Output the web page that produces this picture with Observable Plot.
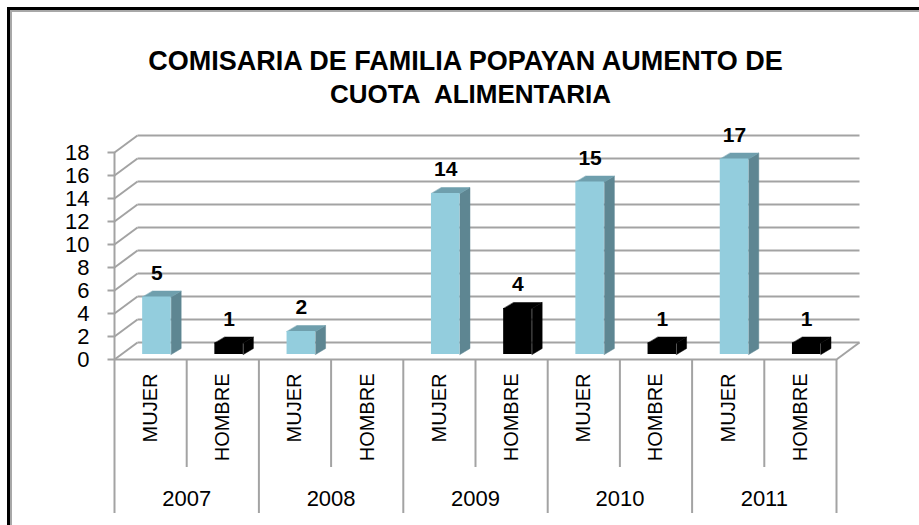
<!DOCTYPE html>
<html><head><meta charset="utf-8">
<script src="https://cdn.jsdelivr.net/npm/d3@7"></script>
<script src="https://cdn.jsdelivr.net/npm/@observablehq/plot@0.6"></script>
<style>
html,body{margin:0;padding:0;background:#fff;}
#wrap{position:relative;width:919px;height:525px;overflow:hidden;background:#fff;}
#chart svg{position:absolute;left:0;top:0;}
#frame1{position:absolute;left:7px;top:7px;width:2000px;height:2000px;border-left:3px solid #000;border-top:3px solid #000;}
#frame2{position:absolute;left:10px;top:10px;width:2000px;height:2000px;border-left:2px solid #a8a8a8;border-top:2px solid #a8a8a8;}
</style></head><body>
<div id="wrap"><div id="chart"></div><div id="frame1"></div><div id="frame2"></div></div>
<script>
// ---- data ----
const titleLines = ["COMISARIA DE FAMILIA POPAYAN AUMENTO DE", "CUOTA\u00a0 ALIMENTARIA"];
const years = ["2007", "2008", "2009", "2010", "2011"];
const sexes = ["MUJER", "HOMBRE"];
const mujer = [5, 2, 14, 15, 17];
const hombre = [1, null, 4, 1, 1];
const yTicks = [0, 2, 4, 6, 8, 10, 12, 14, 16, 18];

// ---- styles ----
const palette = {
  MUJER: {front: "#93cddd", side: "#5e8692", top: "#6f9fad"},
  HOMBRE: {front: "#000000", side: "#000000", top: "#000000"}
};
const gridColor = "#a3a3a3";
const font = "Liberation Sans, Arial, sans-serif";

// ---- layout ----
const W = 919, H = 525, mL = 114, mR = 83, mT = 152, mB = 166;
const nCat = years.length * sexes.length;
const yMax = yTicks[yTicks.length - 1];
const kx = (W - mL - mR) / nCat;       // px per x unit
const ky = (H - mT - mB) / yMax;       // px per y unit
const wallDX = 23 / kx, wallDY = 17 / ky;   // back-wall depth in data units
const barDX = 10 / kx, barDY = 6 / ky;      // bar depth in data units
const barLift = -5;                          // px
const barL = 0.39, barR = 0.785;

// ---- derived table ----
const cats = [];
years.forEach((yr, j) => {
  sexes.forEach((sx, k) => {
    const v = sx === "MUJER" ? mujer[j] : hombre[j];
    cats.push({i: j * sexes.length + k, year: yr, sex: sx, value: v});
  });
});
const bars = cats.filter(d => d.value != null && d.value > 0);

function faces(sex) {
  const side = [], top = [];
  bars.filter(d => d.sex === sex).forEach(d => {
    const x1 = d.i + barL, x2 = d.i + barR, v = d.value;
    side.push({id: d.i, x: x2, y: 0}, {id: d.i, x: x2 + barDX, y: barDY},
              {id: d.i, x: x2 + barDX, y: v + barDY}, {id: d.i, x: x2, y: v});
    top.push({id: d.i, x: x1, y: v}, {id: d.i, x: x2, y: v},
             {id: d.i, x: x2 + barDX, y: v + barDY}, {id: d.i, x: x1 + barDX, y: v + barDY});
  });
  return {side, top};
}

const marks = [];
// back wall gridlines
marks.push(Plot.link(yTicks, {x1: wallDX, x2: nCat + wallDX, y1: d => d + wallDY, y2: d => d + wallDY, stroke: gridColor, strokeWidth: 2}));
// left wall diagonals
marks.push(Plot.link(yTicks, {x1: 0, x2: wallDX, y1: d => d, y2: d => d + wallDY, stroke: gridColor, strokeWidth: 2}));
// floor right diagonal
marks.push(Plot.link([0], {x1: nCat, x2: nCat + wallDX, y1: 0, y2: wallDY, stroke: gridColor, strokeWidth: 2}));
// y axis line and floor front edge
marks.push(Plot.ruleX([0], {y1: 0, y2: yMax, stroke: gridColor, strokeWidth: 2}));
marks.push(Plot.ruleY([0], {x1: 0, x2: nCat, stroke: gridColor, strokeWidth: 2}));
// y ticks
marks.push(Plot.link(yTicks, {x1: -7 / kx, x2: 0, y1: d => d, y2: d => d, stroke: gridColor, strokeWidth: 2}));
marks.push(Plot.text(yTicks, {x: 0, y: d => d, dx: -25, textAnchor: "end", fontSize: 22, fill: "#000", fontFamily: font}));
// category dividers below axis
const bounds = d3.range(nCat + 1);
marks.push(Plot.ruleX(bounds, {x: d => d, y1: 0, y2: d => d % sexes.length === 0 ? -154 / ky : -108 / ky, stroke: gridColor, strokeWidth: 2}));
// bars
for (const sx of sexes) {
  const f = faces(sx);
  const c = palette[sx];
  marks.push(Plot.line(f.side, {x: "x", y: "y", z: "id", fill: c.side, stroke: c.side, strokeWidth: 0.5, curve: "linear-closed", dy: barLift}));
  marks.push(Plot.line(f.top, {x: "x", y: "y", z: "id", fill: c.top, stroke: c.top, strokeWidth: 0.5, curve: "linear-closed", dy: barLift}));
  marks.push(Plot.rectY(bars.filter(d => d.sex === sx), {x1: d => d.i + barL, x2: d => d.i + barR, y1: 0, y2: d => d.value, fill: c.front, inset: 0, dy: barLift}));
}
// value labels
marks.push(Plot.text(bars, {x: d => d.i + (barL + barR) / 2, y: d => d.value, text: d => String(d.value), dy: -29, fontSize: 21, fontWeight: "bold", fill: "#000", fontFamily: font}));
// category labels
marks.push(Plot.text(cats, {x: d => d.i + 0.5, y: 0, text: "sex", rotate: -90, textAnchor: "end", dy: 14, fontSize: 20, fill: "#000", fontFamily: font}));
marks.push(Plot.text(years, {x: (d, j) => j * sexes.length + sexes.length / 2, y: 0, text: d => d, dy: 139, fontSize: 22, fill: "#000", fontFamily: font}));
// title
marks.push(Plot.text([titleLines[0]], {frameAnchor: "top", dx: -10, dy: -102, fontSize: 27, fontWeight: "bold", fill: "#000", fontFamily: font}));
marks.push(Plot.text([titleLines[1]], {frameAnchor: "top", dx: -5, dy: -68, fontSize: 26, fontWeight: "bold", fill: "#000", fontFamily: font}));

const chart = Plot.plot({
  width: W, height: H,
  marginLeft: mL, marginRight: mR, marginTop: mT, marginBottom: mB,
  x: {type: "linear", domain: [0, nCat], axis: null},
  y: {type: "linear", domain: [0, yMax], axis: null},
  style: {background: "#fff", fontFamily: font, overflow: "visible"},
  marks
});
document.getElementById("chart").appendChild(chart);
</script>
</body></html>
